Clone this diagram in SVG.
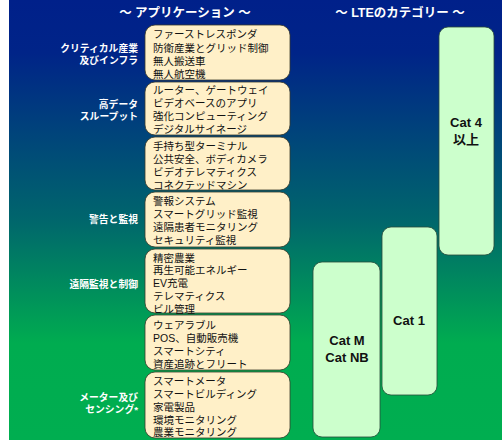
<svg xmlns="http://www.w3.org/2000/svg" width="502" height="444" viewBox="0 0 502 444">
<defs>
<linearGradient id="bg" x1="0" y1="0" x2="0" y2="1">
<stop offset="0" stop-color="#00208A"/>
<stop offset="0.12" stop-color="#002488"/>
<stop offset="0.5" stop-color="#00666C"/>
<stop offset="0.78" stop-color="#00AC50"/>
<stop offset="1" stop-color="#00AE50"/>
</linearGradient>
<style>
.t{font-family:"Liberation Sans","Noto Sans CJK JP",sans-serif;}
.title{font-size:12.5px;font-weight:bold;fill:#fff;text-anchor:middle;}
.lab{font-size:9.8px;font-weight:bold;fill:#fff;text-anchor:end;}
.app{fill:#FFF0C8;stroke:#3a3a2a;stroke-width:0.8;}
.at{font-size:10.5px;fill:#111;}
.cat{fill:#CCFFCC;stroke:#2a4a3a;stroke-width:0.8;}
.ct{font-size:13px;font-weight:bold;fill:#111;text-anchor:middle;}
</style>
</defs>
<rect x="9" y="0" width="493" height="440" fill="url(#bg)"/>
<g class="t">
<text class="title" x="185" y="17">～ アプリケーション ～</text>
<text class="title" x="400" y="17">～ LTEのカテゴリー ～</text>
</g>
<g id="labels" class="t">
<text class="lab" x="138" y="52">クリティカル産業</text>
<text class="lab" x="138" y="64">及びインフラ</text>
<text class="lab" x="138" y="108">高データ</text>
<text class="lab" x="138" y="120">スループット</text>
<text class="lab" x="138" y="223">警告と監視</text>
<text class="lab" x="138" y="288">遠隔監視と制御</text>
<text class="lab" x="138" y="401">メーター及び</text>
<text class="lab" x="138" y="413">センシング*</text>
</g>
<g id="app1" class="t">
<rect class="app" x="145" y="25" width="145" height="55" rx="10"/>
<text class="at" x="153" y="38">ファーストレスポンダ</text>
<text class="at" x="153" y="52">防衛産業とグリッド制御</text>
<text class="at" x="153" y="65">無人搬送車</text>
<text class="at" x="153" y="78">無人航空機</text>
</g>
<g id="app2" class="t">
<rect class="app" x="145" y="82" width="145" height="53" rx="10"/>
<text class="at" x="153" y="94">ルーター、ゲートウェイ</text>
<text class="at" x="153" y="107">ビデオベースのアプリ</text>
<text class="at" x="153" y="120">強化コンピューティング</text>
<text class="at" x="153" y="133">デジタルサイネージ</text>
</g>
<g id="app3" class="t">
<rect class="app" x="145" y="137" width="145" height="53" rx="10"/>
<text class="at" x="153" y="150">手持ち型ターミナル</text>
<text class="at" x="153" y="163">公共安全、ボディカメラ</text>
<text class="at" x="153" y="176">ビデオテレマティクス</text>
<text class="at" x="153" y="189">コネクテッドマシン</text>
</g>
<g id="app4" class="t">
<rect class="app" x="145" y="192" width="145" height="55" rx="10"/>
<text class="at" x="153" y="205">警報システム</text>
<text class="at" x="153" y="218">スマートグリッド監視</text>
<text class="at" x="153" y="231">遠隔患者モニタリング</text>
<text class="at" x="153" y="244">セキュリティ監視</text>
</g>
<g id="app5" class="t">
<rect class="app" x="145" y="249" width="145" height="64" rx="10"/>
<text class="at" x="153" y="262">精密農業</text>
<text class="at" x="153" y="274">再生可能エネルギー</text>
<text class="at" x="153" y="287">EV充電</text>
<text class="at" x="153" y="300">テレマティクス</text>
<text class="at" x="153" y="313">ビル管理</text>
</g>
<g id="app6" class="t">
<rect class="app" x="145" y="315" width="145" height="55" rx="10"/>
<text class="at" x="153" y="329">ウェアラブル</text>
<text class="at" x="153" y="342">POS、自動販売機</text>
<text class="at" x="153" y="355">スマートシティ</text>
<text class="at" x="153" y="368">資産追跡とフリート</text>
</g>
<g id="app7" class="t">
<rect class="app" x="145" y="372" width="145" height="66" rx="10"/>
<text class="at" x="153" y="385">スマートメータ</text>
<text class="at" x="153" y="398">スマートビルディング</text>
<text class="at" x="153" y="411">家電製品</text>
<text class="at" x="153" y="424">環境モニタリング</text>
<text class="at" x="153" y="436">農業モニタリング</text>
</g>
<g id="catM" class="t">
<rect class="cat" x="313" y="262" width="67" height="175" rx="9"/>
<text class="ct" x="347" y="345">Cat M</text>
<text class="ct" x="347" y="362">Cat NB</text>
</g>
<g id="cat1" class="t">
<rect class="cat" x="382" y="227" width="55" height="168" rx="9"/>
<text class="ct" x="409" y="325">Cat 1</text>
</g>
<g id="cat4" class="t">
<rect class="cat" x="439" y="27" width="55" height="228" rx="9"/>
<text class="ct" x="466" y="127">Cat 4</text>
<text class="ct" x="466" y="144">以上</text>
</g>
<g id="connectors"/>
</svg>
